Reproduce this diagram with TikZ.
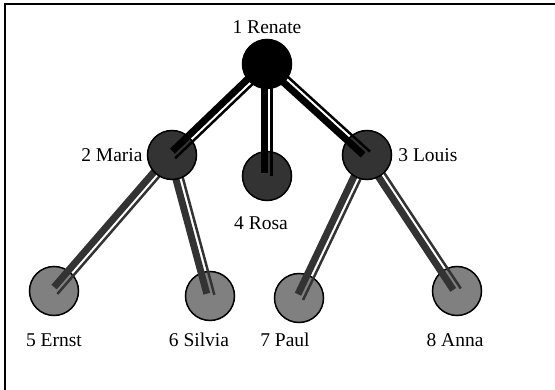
\documentclass[tikz,border=0pt]{standalone}
\usepackage{fontspec}
\setmainfont{Liberation Serif}
\usetikzlibrary{positioning,calc}

\pgfdeclarelayer{kinder}
\pgfdeclarelayer{kanten2}
\pgfdeclarelayer{eltern}
\pgfdeclarelayer{kanten1}
\pgfsetlayers{kinder,kanten2,eltern,kanten1,main}

% Kante: #1 von, #2 nach, #3 Farbe
\newcommand{\famlink}[3]{%
	\draw[line width=7pt, #3, shorten >=3pt] ($(#1.center)!2.5pt!-90:(#2.center)$) -- ($(#2.center)!2.5pt!90:(#1.center)$);
	\draw[line width=2.5pt, #3] ($(#1.center)!4.5pt!90:(#2.center)$) -- ($(#2.center)!4.5pt!-90:(#1.center)$);
}

\begin{document}
\begin{tikzpicture}[x=1pt,y=-1pt]

% Styles
\tikzstyle{person}		=	[circle, draw, line width=1.5pt, minimum size=49pt, inner sep=0pt]
\tikzstyle{namelabel}	=	[font=\fontsize{19.5}{23}\selectfont, inner sep=1pt]

	\useasboundingbox (0,0) rectangle (555,390);
	\draw[line width=1.5pt] (5,400) -- (5,4) -- (560,4); % Rahmen

	% Enkel
	\begin{pgfonlayer}{kinder}
	\node[person, fill=black!50] (ernst)	at (54,291)		{};
	\node[person, fill=black!50] (silvia)	at (210,296)	{};
	\node[person, fill=black!50] (paul)		at (299,298)	{};
	\node[person, fill=black!50] (anna)		at (457,291)	{};
	\end{pgfonlayer}

	% Kinder
	\begin{pgfonlayer}{eltern}
	\node[person, fill=black!80] (maria)	at (172,155)	{};
	\node[person, fill=black!80] (rosa)		at (267,176)	{};
	\node[person, fill=black!80] (louis)	at (367,155)	{};
	\end{pgfonlayer}

	% Wurzel
	\node[person, fill=black] (renate) at (267,64) {};

	\begin{pgfonlayer}{kanten2}
	\famlink{maria}{ernst}{black!80}
	\famlink{maria}{silvia}{black!80}
	\famlink{louis}{paul}{black!80}
	\famlink{louis}{anna}{black!80}
	\end{pgfonlayer}

	\begin{pgfonlayer}{kanten1}
	\famlink{renate}{maria}{black}
	\famlink{renate}{rosa}{black}
	\famlink{renate}{louis}{black}
	\end{pgfonlayer}

	% Namen
	\node[namelabel] (renate_text) [above=4pt of renate] {1 Renate};
	\node[namelabel] (maria_text) [left=3pt of maria] {2 Maria};
	\node[namelabel] (louis_text) [right=5pt of louis] {3 Louis};
	\node[namelabel] (rosa_text) [below=14pt of rosa, xshift=-6pt] {4 Rosa};
	\node[namelabel, anchor=base] (ernst_text)	at (54,347)		{5 Ernst};
	\node[namelabel, anchor=base] (silvia_text)	at (199,347)	{6 Silvia};
	\node[namelabel, anchor=base] (paul_text)	at (285,347)	{7 Paul};
	\node[namelabel, anchor=base] (anna_text)	at (455,347)	{8 Anna};

\end{tikzpicture}
\end{document}
